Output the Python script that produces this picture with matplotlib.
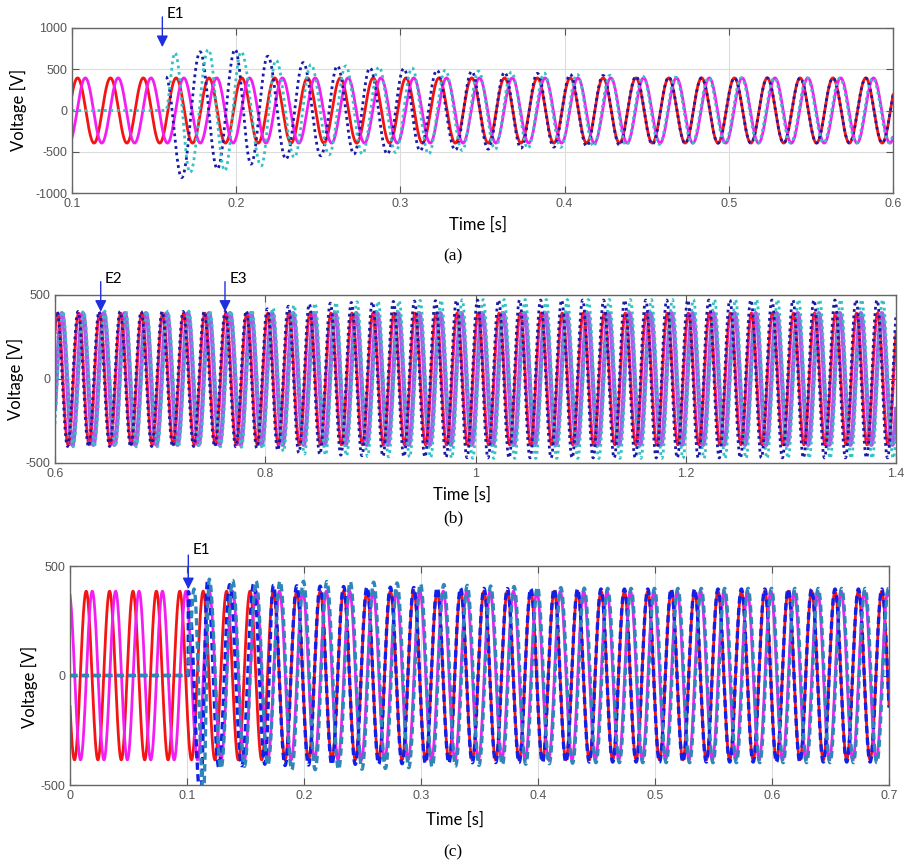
#!/usr/bin/env python3

import numpy as np
import matplotlib
matplotlib.use('Agg')
import matplotlib.pyplot as plt

plt.rcParams['axes.unicode_minus'] = False

# ---------------------------------------------------------------------------
# values
# ---------------------------------------------------------------------------
f_grid = 50.0                      # Hz, all waves

# (a) 0.1 .. 0.6 s
a_red_amp, a_red_peak = 395, 0.1034
a_mag_amp, a_mag_peak = 395, 0.1081
a_event = 0.155

# peaks and troughs of the two transient waves after E1 (time [s], voltage [V])
a_blue_t = [0.1572, 0.1668, 0.1780, 0.1885, 0.1993, 0.2090, 0.2192, 0.2303,
            0.2408, 0.2515, 0.2616, 0.2717, 0.2814, 0.2920, 0.3020, 0.3120, 0.3222]
a_blue_v = [406, -813, 711, -707, 740, -650, 658, -589,
            581, -549, 540, -528, 516, -528, 508, -488, 488]
a_cyan_t = [0.1570, 0.1627, 0.1719, 0.1830, 0.1930, 0.2030, 0.2152, 0.2242,
            0.2354, 0.2455, 0.2566, 0.2667, 0.2768, 0.2869, 0.2970, 0.3071, 0.3172, 0.3273]
a_cyan_v = [0, 700, -752, 740, -730, 711, -671, 610,
            -569, 557, -537, 540, -528, 528, -508, 516, -528, 488]
# settling envelope afterwards
a_env_t = [0.32, 0.36, 0.40, 0.44, 0.48, 0.60]
a_blue_env = [488, 465, 440, 415, 396, 392]
a_cyan_env = [495, 470, 445, 420, 398, 392]

# (b) 0.6 .. 1.4 s
b_red_amp, b_red_peak = 392, 0.6225
b_vio_amp, b_vio_peak = 392, 0.6265
b_events = [0.6435, 0.7617]
b_env_t = [0.60, 0.76, 0.78, 0.80, 0.82, 0.84, 0.86, 0.90, 0.95, 1.00, 1.40]
b_blue_env = [402, 402, 405, 416, 432, 446, 451, 459, 465, 470, 470]
b_cyan_env = [404, 404, 407, 418, 435, 449, 455, 462, 468, 473, 473]

# (c) 0 .. 0.7 s
c_red_amp, c_red_peak = 385, 0.0138
c_mag_amp, c_mag_peak = 385, 0.0190
c_event = 0.1011
c_blue_t = [0.1011, 0.1115, 0.1175, 0.1272, 0.1365, 0.1468, 0.1570, 0.1665]
c_blue_v = [383, -560, 430, -420, 415, -412, 420, -405]
c_steel_t = [0.1000, 0.1060, 0.1140, 0.1190, 0.1290, 0.1390, 0.1490, 0.1590, 0.1690]
c_steel_v = [0, 395, -540, 440, -425, 435, -415, 432, -410]
c_env_t = [0.17, 0.25, 0.35, 0.45, 0.70]
c_blue_env = [412, 405, 398, 395, 395]
c_steel_env = [432, 428, 410, 398, 398]

# ---------------------------------------------------------------------------
T = 1 / f_grid


def wave(t, amp, peak):
    return amp * np.cos(2 * np.pi * f_grid * (t - peak))


def through_extrema(t, ext_t, ext_v, before=0.0):
    ''' half a cosine between every pair of peak / trough '''
    y = np.full_like(t, np.nan)
    y[t < ext_t[0]] = before
    for t1, t2, v1, v2 in zip(ext_t[:-1], ext_t[1:], ext_v[:-1], ext_v[1:]):
        m = (t >= t1) & (t <= t2)
        y[m] = (v1 + v2) / 2 + (v1 - v2) / 2 * np.cos(np.pi * (t[m] - t1) / (t2 - t1))
    return y


def transient(t, ext_t, ext_v, env_t, env_v, peak, t_end, before=0.0):
    ''' measured extrema first, then a 50 Hz wave locked to `peak` '''
    ext_t, ext_v = list(ext_t), list(ext_v)
    k = int(np.ceil((ext_t[-1] + T / 4 - peak) / (T / 2)))
    while peak + k * T / 2 < t_end + T:
        tk = peak + k * T / 2
        sign = 1 if k % 2 == 0 else -1
        if np.sign(ext_v[-1]) != sign:
            ext_t.append(tk)
            ext_v.append(sign * np.interp(tk, env_t, env_v))
        k += 1
    return through_extrema(t, np.array(ext_t), np.array(ext_v), before)


def style(ax, xlim, ylim, xticks, yticks, xlabels=None):
    ax.set_xlim(xlim)
    ax.set_ylim(ylim)
    ax.set_xticks(xticks)
    if xlabels is not None:
        ax.set_xticklabels(xlabels)
    ax.set_yticks(yticks)
    ax.grid(True, color='#dcdcdc', lw=0.8)
    ax.set_axisbelow(True)
    ax.tick_params(direction='in', top=True, right=True, length=5,
                   labelsize=9, labelcolor='#555555', color='#555555')
    for lab in ax.get_xticklabels() + ax.get_yticklabels():
        lab.set_family('Liberation Sans')
    for s in ax.spines.values():
        s.set_color('#666666')
        s.set_linewidth(1.0)


def event(ax, x, y_tip, y_tail, y_text, name):
    ax.annotate('', xy=(x, y_tip), xytext=(x, y_tail),
                arrowprops=dict(arrowstyle='-|>', color='#1f2fe0', lw=1.0,
                                mutation_scale=17, shrinkA=0, shrinkB=0),
                annotation_clip=False)
    ax.text(x + (ax.get_xlim()[1] - ax.get_xlim()[0]) * 0.005, y_text, name,
            family='Lato', fontsize=11, va='center', ha='left', clip_on=False)


fig = plt.figure(figsize=(9.06, 8.66), dpi=100)
lab_font = dict(family='Lato', fontsize=12)
cap_font = dict(family='Liberation Serif', fontsize=12.5)

RED, MAG = '#f41414', '#f21ef2'
NAVY, CYAN = '#1a1aa8', '#33c2c4'
VIOLET = '#a85ce8'
BLUE, STEEL = '#1020e8', '#2f86b8'
dots = (0, (1, 1.3))
dashes = (0, (2.2, 1.3))

# ----------------------------------- (a) -----------------------------------
ax = fig.add_axes([0.0795, 0.7771, 0.9062, 0.1906])
t = np.arange(0.1, 0.6001, 0.0001)
ax.plot(t, wave(t, a_red_amp, a_red_peak), color=RED, lw=2.0)
ax.plot(t, wave(t, a_mag_amp, a_mag_peak), color=MAG, lw=2.0)
ax.plot(t, transient(t, a_blue_t, a_blue_v, a_env_t, a_blue_env,
                     a_red_peak, 0.6, before=np.nan), color=NAVY, lw=2.0, ls=dots)
ax.plot(t, transient(t, a_cyan_t, a_cyan_v, a_env_t, a_cyan_env,
                     a_mag_peak - 0.0005, 0.6), color=CYAN, lw=2.0, ls=dots)
style(ax, (0.1, 0.6), (-1000, 1000), [0.1, 0.2, 0.3, 0.4, 0.5, 0.6],
      [-1000, -500, 0, 500, 1000])
event(ax, a_event, 768, 1134, 1170, 'E1')
fig.text(0.020, 0.873, 'Voltage [V]', rotation=90, ha='center', va='center', **lab_font)
fig.text(0.528, 0.740, 'Time [s]', ha='center', va='center', **lab_font)
fig.text(0.500, 0.704, '(a)', ha='center', va='center', **cap_font)

# ----------------------------------- (b) -----------------------------------
ax = fig.add_axes([0.0607, 0.4654, 0.9283, 0.1940])
t = np.arange(0.6, 1.4001, 0.0001)
ax.plot(t, wave(t, b_vio_amp, b_vio_peak), color=VIOLET, lw=3.0)
ax.plot(t, wave(t, b_red_amp, b_red_peak), color=RED, lw=2.0)
ax.plot(t, wave(t, b_red_amp, b_red_peak + 0.0008), color=MAG, lw=1.2, ls=dots)
ax.plot(t, np.interp(t, b_env_t, b_cyan_env) * np.cos(2 * np.pi * f_grid * (t - b_vio_peak - 0.0008)),
        color=CYAN, lw=2.0, ls=dots)
ax.plot(t, np.interp(t, b_env_t, b_blue_env) * np.cos(2 * np.pi * f_grid * (t - b_red_peak + 0.0006)),
        color=NAVY, lw=2.0, ls=dots)
style(ax, (0.6, 1.4), (-500, 500), [0.6, 0.8, 1.0, 1.2, 1.4], [-500, 0, 500],
      ['0.6', '0.8', '1', '1.2', '1.4'])
event(ax, b_events[0], 400, 579, 595, 'E2')
event(ax, b_events[1], 400, 579, 595, 'E3')
fig.text(0.017, 0.562, 'Voltage [V]', rotation=90, ha='center', va='center', **lab_font)
fig.text(0.510, 0.429, 'Time [s]', ha='center', va='center', **lab_font)
fig.text(0.500, 0.401, '(b)', ha='center', va='center', **cap_font)

# ----------------------------------- (c) -----------------------------------
ax = fig.add_axes([0.0773, 0.0935, 0.9040, 0.2529])
t = np.arange(0.0, 0.7001, 0.0001)
ax.plot(t, wave(t, c_red_amp, c_red_peak), color=RED, lw=2.0)
ax.plot(t, wave(t, c_mag_amp, c_mag_peak), color=MAG, lw=2.0)
ax.plot(t, transient(t, c_blue_t, c_blue_v, c_env_t, c_blue_env,
                     c_red_peak, 0.7), color=BLUE, lw=2.4, ls=dashes)
ax.plot(t, transient(t, c_steel_t, c_steel_v, c_env_t, c_steel_env,
                     c_mag_peak + 0.0005, 0.7), color=STEEL, lw=2.4, ls=dashes)
style(ax, (0.0, 0.7), (-500, 500), [0, 0.1, 0.2, 0.3, 0.4, 0.5, 0.6, 0.7],
      [-500, 0, 500], ['0', '0.1', '0.2', '0.3', '0.4', '0.5', '0.6', '0.7'])
event(ax, c_event, 394, 550, 573, 'E1')
fig.text(0.033, 0.207, 'Voltage [V]', rotation=90, ha='center', va='center', **lab_font)
fig.text(0.502, 0.053, 'Time [s]', ha='center', va='center', **lab_font)
fig.text(0.500, 0.016, '(c)', ha='center', va='center', **cap_font)

fig.savefig('out.png', dpi=100)
